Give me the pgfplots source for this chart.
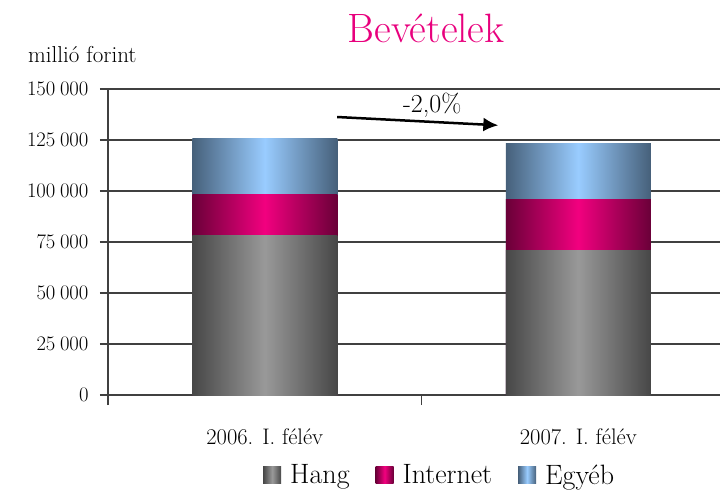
\documentclass[border=0pt]{standalone}
\usepackage{pgfplots}
\pgfplotsset{compat=1.18}
\usetikzlibrary{arrows.meta}
\definecolor{hangD}{HTML}{474747}
\definecolor{hangL}{HTML}{999999}
\definecolor{intD}{HTML}{6A0038}
\definecolor{intL}{HTML}{F2007F}
\definecolor{egyD}{HTML}{46607A}
\definecolor{egyL}{HTML}{99CCFF}
\definecolor{titlec}{HTML}{E8007D}
\definecolor{gridc}{HTML}{404040}
\tikzset{
  hangS/.style={draw=none, left color=hangD, right color=hangD, middle color=hangL},
  intS/.style={draw=none, left color=intD, right color=intD, middle color=intL},
  egyS/.style={draw=none, left color=egyD, right color=egyD, middle color=egyL},
}
\begin{document}
\begin{tikzpicture}
\begin{axis}[
  name=ax, at={(0,0)}, anchor=south west,
  scale only axis, width=612bp, height=306bp,
  xmin=-0.5, xmax=1.452, ymin=0, ymax=150000,
  ybar, bar width=0.4625, bar shift=0pt,
  axis lines=left, axis line style={-, gridc, line width=1.1bp},
  ytick={0,25000,50000,75000,100000,125000,150000},
  ymajorgrids, grid style={gridc, line width=1.1bp},
  tick align=outside, major tick length=8bp,
  y tick style={gridc, line width=1.1bp},
  scaled y ticks=false,
  yticklabel style={/pgf/number format/fixed, /pgf/number format/1000 sep={\:}, font=\fontsize{22bp}{25bp}\selectfont, xshift=-8bp},
  xtick={0,1}, xticklabels={2006. I. félév, 2007. I. félév},
  x tick style={draw=none},
  xticklabel style={font=\fontsize{22.5bp}{25bp}\selectfont, yshift=-22bp},
  extra x ticks={-0.5,0.5}, extra x tick labels={},
  extra x tick style={x tick style={draw=gridc, line width=1.1bp}, major tick length=10bp, grid=none},
  legend style={at={(0.2533,-0.262)}, anchor=west, draw=none, fill=none, inner sep=0pt,
    legend columns=-1, font=\fontsize{28bp}{31bp}\selectfont,
    /tikz/every odd column/.append style={column sep=7bp},
    /tikz/every even column/.append style={column sep=24bp}},
  legend image code/.code={\path[#1] (0bp,-8.5bp) rectangle (18bp,8.5bp);},
]
% 2006. I. felev: cumulative tops (Egyeb, Internet, Hang)
\addplot[egyS, forget plot] coordinates {(0,125500)};
\addplot[intS, forget plot] coordinates {(0,98500)};
\addplot[hangS, forget plot] coordinates {(0,78100)};
% 2007. I. felev
\addplot[egyS, forget plot] coordinates {(1,123500)};
\addplot[intS, forget plot] coordinates {(1,95600)};
\addplot[hangS, forget plot] coordinates {(1,70600)};
\addlegendimage{hangS}
\addlegendentry{Hang}
\addlegendimage{intS}
\addlegendentry{Internet}
\addlegendimage{egyS}
\addlegendentry{Egyéb}
\draw[-{Latex[length=15bp,width=14bp]}, line width=2.5bp] (axis cs:0.231,136270) -- (axis cs:0.745,132200);
\node[font=\fontsize{26bp}{30bp}\selectfont] at (axis cs:0.534,142160) {-2,0\%};
\end{axis}
\node[font=\fontsize{41bp}{46bp}\selectfont, text=titlec] at ([shift={(318bp,367bp)}]ax.south west) {Bevételek};
\node[anchor=west, font=\fontsize{23bp}{25bp}\selectfont, inner sep=0pt] at ([shift={(-80bp,340bp)}]ax.south west) {millió forint};
\pgfresetboundingbox
\path ([shift={(-108bp,-95bp)}]ax.south west) rectangle ([shift={(612bp,395bp)}]ax.south west);
\end{tikzpicture}
\end{document}
